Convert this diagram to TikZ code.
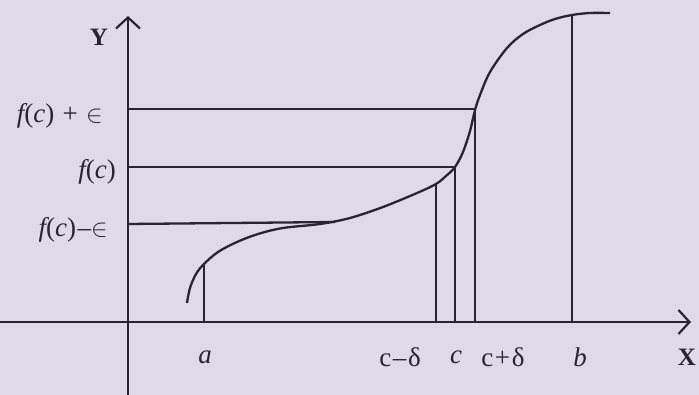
\documentclass[tikz,border=0pt]{standalone}
\usepackage{fontspec}
\setmainfont{Liberation Serif}
\usetikzlibrary{arrows.meta}
\definecolor{bg}{RGB}{222,218,233}
\definecolor{ink}{RGB}{40,36,52}
\begin{document}
\begin{tikzpicture}[x=1pt,y=-1pt,
  axis/.style={draw=ink,line width=2.4pt,-{Straight Barb[length=11pt,width=24pt,line width=2.2pt]}},
  guide/.style={draw=ink,line width=2.3pt},
  curve/.style={draw=ink,line width=2.3pt},
  lbl/.style={text=ink,font=\fontsize{27}{30}\selectfont\addfontfeature{LetterSpace=6},inner sep=0pt},
  axlbl/.style={text=ink,font=\fontsize{25}{28}\selectfont\bfseries,inner sep=0pt}]
\fill[bg] (0,0) rectangle (699,395);
\useasboundingbox (0,0) rectangle (699,395);
% axes
\coordinate (ybot) at (128,395);
\coordinate (ytop) at (128,16);
\coordinate (xleft) at (0,322);
\coordinate (xright) at (691,322);
\draw[axis] (ybot) -- (ytop);
\draw[axis] (xleft) -- (xright);
% curve
\draw[curve] plot[smooth,tension=0.55] coordinates {
 (187,303) (190,288) (196,274) (204,264) (218,252) (237,242) (258,234) (283,228)
 (320,224) (350,218) (383,207) (417,193) (436,184) (446,176) (455,167) (463,152)
 (470,131) (475,110) (480,95) (490,72) (507,48) (523,34) (540,25) (555,19)
 (572,15) (590,13) (610,13)};
% key points
\coordinate (Pa) at (204,264);
\coordinate (Pcm) at (436,185);
\coordinate (Pc) at (455,167);
\coordinate (Pcp) at (475,109);
\coordinate (Pb) at (572,15);
\coordinate (Pe) at (335,222);
\coordinate (Ya) at (128,109);
\coordinate (Yb) at (128,167);
\coordinate (Yc) at (128,224);
\coordinate (Xa) at (204,322);
\coordinate (Xcm) at (436,322);
\coordinate (Xc) at (455,322);
\coordinate (Xcp) at (475,322);
\coordinate (Xb) at (572,322);
% guide lines
\draw[guide] (Ya) -- (Pcp);
\draw[guide] (Yb) -- (Pc);
\draw[guide] (Yc) -- (Pe);
\draw[guide] (Xa) -- (Pa);
\draw[guide] (Xcm) -- (Pcm);
\draw[guide] (Xc) -- (Pc);
\draw[guide] (Xcp) -- (Pcp);
\draw[guide] (Xb) -- (Pb);
% labels
\node[axlbl] (ylab) at (99,37) {Y};
\node[axlbl] (xlab) at (687,357) {X};
\node[lbl,anchor=east] (lfe1) at (103,116) {\itshape f\upshape(\itshape c\upshape) + $\in$};
\node[lbl,anchor=east] (lf) at (116,172) {\itshape f\upshape(\itshape c\upshape)};
\node[lbl,anchor=east] (lfe2) at (108,230) {\itshape f\upshape(\itshape c\upshape)--$\in$};
\node[lbl] (la) at (205,357) {\itshape a};
\node[lbl] (lcm) at (400,357) {c--δ};
\node[lbl] (lc) at (456,357) {\itshape c};
\node[lbl] (lcp) at (503,357) {c+δ};
\node[lbl] (lb) at (580,357) {\itshape b};
\end{tikzpicture}
\end{document}
